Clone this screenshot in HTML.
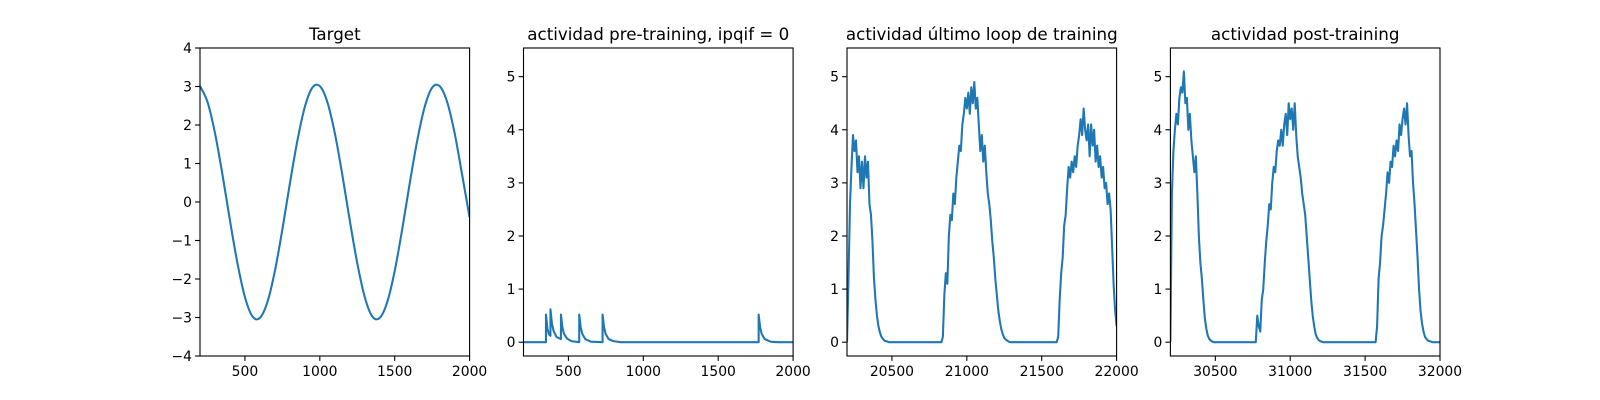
<!DOCTYPE html>
<html><head><meta charset="utf-8"><style>
html,body{margin:0;padding:0;background:#fff;}
svg{display:block;font-family:"DejaVu Sans","Liberation Sans",sans-serif;}
</style></head>
<body>
<svg id="fig" width="1600" height="400" viewBox="0 0 1600 400"></svg>
<script>
const targetX0 = 200, targetStep = 50;
const targetY = [3.01,2.60,1.79,0.71,-0.48,-1.59,-2.47,-2.97,-3.01,-2.60,-1.79,-0.71,0.48,1.59,2.47,2.97,3.01,2.60,1.79,0.71,-0.48,-1.59,-2.47,-2.97,-3.01,-2.60,-1.79,-0.71,0.48,1.59,2.47,2.97,3.01,2.60,1.79,0.71,-0.40];
const preX = [200,350,350,360,370,380,380,390,400,420,450,450,460,470,490,520,572,572,582,592,612,650,728,728,738,748,768,800,850,1770,1770,1780,1790,1810,1850,1900,2000];
const preY = [0,0,0.52,0.25,0.15,0.12,0.62,0.35,0.22,0.1,0.06,0.52,0.28,0.16,0.07,0.02,0,0.52,0.28,0.16,0.06,0.01,0,0.52,0.28,0.16,0.06,0.02,0,0,0.52,0.28,0.16,0.06,0.01,0,0];
const lastX0 = 20200, lastStep = 10;
const lastY = [0,1.2,2.6,3.3,3.9,3.6,3.8,3.2,3.5,2.9,
3.4,2.9,3.5,3.1,3.4,2.6,2.4,1.9,1.2,0.8,
0.5,0.3,0.18,0.1,0.06,0.03,0.02,0.01,0,0,
0,0,0,0,0,0,0,0,0,0, 0,0,0,0,0,0,0,0,0,0, 0,0,0,0,0,0,0,0,0,0,
0,0,0,0,0.1,0.9,1.3,1.1,2.0,2.4,
2.3,2.8,2.6,3.1,3.4,3.7,3.6,4.1,4.3,4.6,
4.4,4.7,4.3,4.8,4.5,4.9,4.4,4.6,4.1,3.6,
3.9,3.4,3.7,3.2,2.8,2.6,2.3,1.9,1.6,1.2,
0.9,0.6,0.4,0.25,0.15,0.08,0.05,0.03,0.01,0,
0,0,0,0,0,0,0,0,0,0, 0,0,0,0,0,0,0,0,0,0, 0,0,0,0,0,0,0,0,0,0,
0,0.1,0.8,1.3,1.6,2.2,2.4,2.9,3.3,3.1,
3.4,3.2,3.5,3.3,3.7,3.9,4.2,3.9,4.4,4.0,
3.8,4.1,3.5,4.1,3.7,4.0,3.4,3.7,3.3,3.5,
3.1,3.3,2.9,3.0,2.6,2.8,2.5,1.8,1.1,0.6,
0.3];
const postX0 = 30200, postStep = 10;
const postY = [0,2.8,3.6,4.0,4.3,4.1,4.6,4.8,4.7,5.1,
4.5,4.6,4.0,4.3,3.8,3.5,3.2,3.5,2.8,2.0,
1.5,1.2,0.8,0.45,0.25,0.12,0.06,0.03,0.01,0,
0,0,0,0,0,0,0,0,0,0, 0,0,0,0,0,0,0,0,0,0, 0,0,0,0,0,0,0,0,0.5,0.3,
0.2,0.8,1.0,1.5,1.9,2.2,2.6,2.5,3.0,3.3,
3.2,3.6,3.8,3.7,4.0,3.7,4.1,4.3,3.9,4.5,
4.2,4.4,4.0,4.5,3.9,3.5,3.3,3.1,2.8,2.6,
2.4,2.0,1.6,1.2,0.8,0.5,0.3,0.15,0.08,0.04,
0.02,0.01,0,0,0,0,0,0,0,0,
0,0,0,0,0,0,0,0,0,0, 0,0,0,0,0,0,0,0,0,0, 0,0,0,0,0,0,0,0,0.3,1.2,
1.5,2.0,2.2,2.5,2.8,3.2,3.0,3.4,3.3,3.7,
3.5,3.8,3.6,4.1,3.9,4.2,4.4,4.1,4.5,3.9,
3.5,3.6,3.0,2.6,2.1,1.6,1.0,0.6,0.35,0.2,
0.1,0.06,0.03,0.02,0.01,0,0,0,0,0,
0];
const xticks1 = [500,1000,1500,2000];
const yticks1 = [-4,-3,-2,-1,0,1,2,3,4];
const xticks3 = [20500,21000,21500,22000];
const xticks4 = [30500,31000,31500,32000];
const yticksAct = [0,1,2,3,4,5];
const titles = ["Target","actividad pre-training, ipqif = 0","actividad último loop de training","actividad post-training"];

(function(){
const NS = "http://www.w3.org/2000/svg";
const svgEl = document.getElementById('fig');
function mk(tag, attrs, par){ const e=document.createElementNS(NS,tag); for(const k in attrs) e.setAttribute(k,attrs[k]); (par||svgEl).appendChild(e); return e; }
const axTop=48, axBot=356, W=269.6;
const lefts=[200,523.5,847,1170.4];
function seq(x0,step,n){const a=[];for(let i=0;i<n;i++)a.push(x0+i*step);return a;}
const panels=[
 {name:'target',xd:[200,2000],yd:[-4,4],xs:seq(targetX0,targetStep,targetY.length),ys:targetY,xt:xticks1,yt:yticks1,smooth:true},
 {name:'pre-training',xd:[200,2000],yd:[-0.26,5.54],xs:preX,ys:preY,xt:xticks1,yt:yticksAct},
 {name:'last-loop',xd:[20200,22000],yd:[-0.26,5.54],xs:seq(lastX0,lastStep,lastY.length),ys:lastY,xt:xticks3,yt:yticksAct},
 {name:'post-training',xd:[30200,32000],yd:[-0.26,5.54],xs:seq(postX0,postStep,postY.length),ys:postY,xt:xticks4,yt:yticksAct}
];
panels.forEach((p,i)=>{
  const L=lefts[i];
  const sx=v=>L+(v-p.xd[0])/(p.xd[1]-p.xd[0])*W;
  const sy=v=>axBot-(v-p.yd[0])/(p.yd[1]-p.yd[0])*(axBot-axTop);
  const g=mk('g',{});
  
  
  const cid='clip'+i;
  const cp=mk('clipPath',{id:cid},g); mk('rect',{x:L,y:axTop,width:W,height:axBot-axTop},cp);
  const pts=p.xs.map((x,j)=>[sx(x),sy(p.ys[j])]);
  let d='M'+pts[0][0].toFixed(2)+','+pts[0][1].toFixed(2);
  for(let j=1;j<pts.length;j++){
    if(p.smooth){
      const p0=pts[Math.max(j-2,0)],p1=pts[j-1],p2=pts[j],p3=pts[Math.min(j+1,pts.length-1)];
      const c1=[p1[0]+(p2[0]-p0[0])/6,p1[1]+(p2[1]-p0[1])/6];
      const c2=[p2[0]-(p3[0]-p1[0])/6,p2[1]-(p3[1]-p1[1])/6];
      d+='C'+c1[0].toFixed(2)+','+c1[1].toFixed(2)+' '+c2[0].toFixed(2)+','+c2[1].toFixed(2)+' '+p2[0].toFixed(2)+','+p2[1].toFixed(2);
    } else d+='L'+pts[j][0].toFixed(2)+','+pts[j][1].toFixed(2);
  }
  const line=mk('path',{d:d,fill:'none',stroke:'#1f77b4','stroke-width':2.08,'stroke-linejoin':'round','clip-path':'url(#'+cid+')'},g);
  
  
  const fr=mk('rect',{x:L,y:axTop,width:W,height:axBot-axTop,fill:'none',stroke:'#000','stroke-width':1.1},g);
  
  
  p.xt.forEach(t=>{
    const x=sx(t);
    mk('line',{x1:x,x2:x,y1:axBot,y2:axBot+4.9,stroke:'#000','stroke-width':1.1},g);
    const tx=mk('text',{x:x,y:axBot+20,'text-anchor':'middle','font-size':13.9,fill:'#000'},g);
    tx.textContent=t;
    
    
  });
  p.yt.forEach(t=>{
    const y=sy(t);
    mk('line',{x1:L-4.9,x2:L,y1:y,y2:y,stroke:'#000','stroke-width':1.1},g);
    const tx=mk('text',{x:L-8,y:y+5,'text-anchor':'end','font-size':13.9,fill:'#000'},g);
    tx.textContent=t<0?'\u2212'+(-t):String(t);
    
    
  });
  const ti=mk('text',{x:L+W/2,y:axTop-8,'text-anchor':'middle','font-size':16.7,fill:'#000'},g);
  ti.textContent=titles[i];
  
  
});
})();
</script>
</body></html>
